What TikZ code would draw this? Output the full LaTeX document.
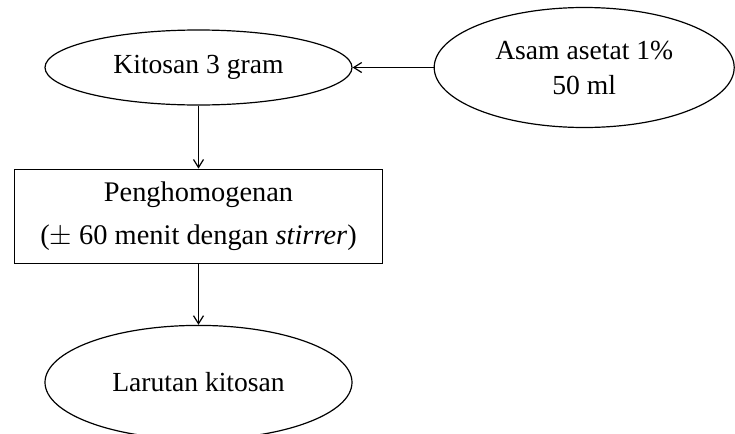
\documentclass[tikz,border=0pt]{standalone}
\usepackage{fontspec}
\setmainfont{Liberation Serif}
\usetikzlibrary{arrows.meta,positioning,shapes.geometric}

\begin{document}
\begin{tikzpicture}[
  x=0.5pt, y=-0.5pt,
  font=\fontsize{13.8}{17.5}\selectfont,
  >={Straight Barb[length=4pt,width=5pt]},
  line width=0.6pt,
  every node/.style={align=center, inner sep=0pt},
  oval/.style={draw, ellipse, minimum width=153.5pt, minimum height=37.5pt},
  prosesbox/.style={draw, rectangle, minimum width=184pt, minimum height=47pt,
    font=\fontsize{14.2}{21.5}\selectfont},
]
  \path[use as bounding box, clip] (0,0) rectangle (735,434);

  \node[oval] (kitosan) at (198.5,67.5) {Kitosan 3 gram};
  \node[oval, right=40.5pt of kitosan, minimum width=150pt, minimum height=60pt] (asam)
       {Asam asetat 1\%\\50 ml};
  \node[prosesbox, below=31.5pt of kitosan] (homogen)
       {Penghomogenan\\(\(\pm\) 60 menit dengan \textit{stirrer})};
  \node[oval, below=30.5pt of homogen, minimum height=57pt] (larutan) {Larutan kitosan};

  \draw[->] (asam) -- (kitosan);
  \draw[->] (kitosan) -- (homogen);
  \draw[->] (homogen) -- (larutan);
\end{tikzpicture}
\end{document}
